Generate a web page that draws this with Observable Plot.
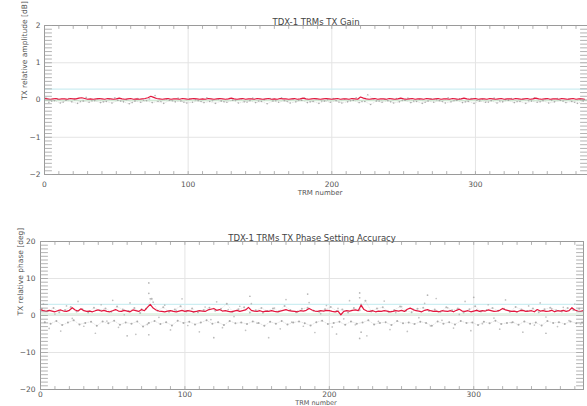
<!DOCTYPE html>
<html>
<head>
<meta charset="utf-8">
<script src="https://cdn.jsdelivr.net/npm/d3@7"></script>
<script src="https://cdn.jsdelivr.net/npm/@observablehq/plot@0.6"></script>
<style>
  html, body { margin: 0; padding: 0; background: #fff; }
  #chart { width: 587px; }
  #chart svg { display: block; }
</style>
</head>
<body>
<div id="chart"></div>
<script>
// ---------- texts ----------
const titleGain = "TDX-1 TRMs TX Gain";
const titlePhase = "TDX-1 TRMs TX Phase Setting Accuracy";
const labelX = "TRM number";
const labelGain = "TX relative amplitude [dB]";
const labelPhase = "TX relative phase [deg]";

// ---------- tick values ----------
const xTicks = [0, 100, 200, 300];
const gainTicks = [-2, -1, 0, 1, 2];
const phaseTicks = [-20, -10, 0, 10, 20];

// ---------- TRM numbers ----------
const trmEven = d3.range(0, 377, 2);     // mean curves
const trmA = d3.range(1, 377, 4);        // individual-measurement traces
const trmB = d3.range(3, 377, 4);
const trmC = d3.range(2, 377, 4);

// ---------- TX gain (dB) ----------
const gainMean = [
0.04,0.03,0.02,0.03,0.04,0.02,0.03,0.03,0.02,0.04,0.03,0.03,0.05,0.06,0.04,0.02,0.03,0.02,0.03,0.04,
0.03,0.02,0.04,0.03,0.02,0.03,0.05,0.03,0.02,0.03,0.04,0.02,0.03,0.02,0.03,0.04,0.06,0.10,0.07,0.04,
0.03,0.02,0.03,0.04,0.02,0.03,0.03,0.02,0.04,0.03,0.02,0.03,0.04,0.03,0.02,0.03,0.02,0.04,0.03,0.02,
0.03,0.04,0.03,0.02,0.03,0.05,0.03,0.02,0.03,0.04,0.02,0.03,0.03,0.02,0.04,0.03,0.02,0.03,0.04,0.02,
0.03,0.02,0.04,0.03,0.03,0.02,0.03,0.04,0.02,0.03,0.05,0.03,0.02,0.03,0.04,0.03,0.02,0.03,0.04,0.03,
0.02,0.03,0.04,0.02,0.03,0.03,0.02,0.04,0.03,0.02,0.08,0.05,0.03,0.02,0.03,0.04,0.02,0.03,0.03,0.02,
0.04,0.03,0.02,0.03,0.05,0.03,0.02,0.03,0.04,0.02,0.03,0.03,0.02,0.04,0.03,0.02,0.03,0.04,0.02,0.03,
0.03,0.02,0.04,0.03,0.02,0.03,0.05,0.03,0.02,0.03,0.04,0.02,0.03,0.03,0.02,0.04,0.03,0.02,0.03,0.04,
0.02,0.03,0.03,0.02,0.04,0.03,0.02,0.03,0.04,0.02,0.03,0.05,0.03,0.02,0.03,0.04,0.02,0.03,0.03,0.02,
0.04,0.03,0.02,0.03,0.04,0.02,0.03,0.03,0.02
];
const gainA = [
0.05,-0.03,0.02,-0.06,0.04,0.01,-0.04,0.07,-0.02,0.03,
-0.05,0.02,0.06,-0.03,0.01,-0.07,0.04,-0.01,0.03,0.12,
-0.04,0.02,-0.02,0.05,-0.06,0.03,0.01,-0.04,0.06,-0.02,
0.02,-0.05,0.04,-0.01,0.03,-0.06,0.05,-0.03,0.01,0.04,
-0.02,0.06,-0.04,0.02,-0.01,0.05,-0.05,0.03,-0.03,0.01,
0.04,-0.06,0.02,-0.02,0.06,-0.04,0.14,0.03,-0.03,0.02,
-0.05,0.04,-0.01,0.05,-0.03,0.02,-0.06,0.03,0.01,-0.04,
0.06,-0.02,0.03,-0.05,0.04,-0.01,0.02,-0.06,0.05,-0.03,
0.01,0.04,-0.04,0.02,-0.02,0.06,-0.05,0.03,-0.01,0.04,
-0.03,0.02,-0.06,0.03
];
const gainB = [
-0.06,-0.02,-0.08,-0.01,-0.05,-0.09,-0.03,-0.06,-0.02,-0.07,
-0.04,-0.08,-0.01,-0.05,-0.10,-0.03,-0.06,-0.02,-0.07,-0.04,
-0.09,-0.01,-0.05,-0.03,-0.08,-0.06,-0.02,-0.07,-0.04,-0.09,
-0.03,-0.06,-0.01,-0.08,-0.05,-0.02,-0.07,-0.04,-0.10,-0.03,
-0.06,-0.02,-0.08,-0.05,-0.01,-0.07,-0.04,-0.09,-0.03,-0.06,
-0.02,-0.08,-0.05,-0.01,-0.07,-0.04,-0.12,-0.03,-0.06,-0.02,
-0.08,-0.05,-0.01,-0.07,-0.04,-0.09,-0.03,-0.06,-0.02,-0.08,
-0.05,-0.01,-0.07,-0.04,-0.09,-0.03,-0.06,-0.02,-0.08,-0.05,
-0.01,-0.07,-0.04,-0.09,-0.03,-0.06,-0.02,-0.08,-0.05,-0.01,
-0.07,-0.04,-0.09,-0.03
];
const gainRefLevels = [0.29];   // faint cyan
const gainLowLevels = [-0.02];  // faint green

// ---------- TX phase (deg) ----------
const phaseMean = [
1.6,1.3,1.1,1.4,1.2,1.0,1.3,1.5,1.2,1.1,1.4,2.1,1.5,1.2,1.8,1.3,1.1,1.2,1.0,1.3,
1.5,1.2,1.4,1.1,1.0,1.3,1.6,1.2,1.1,1.4,1.2,1.0,1.5,1.3,1.1,1.6,1.3,2.2,3.0,2.0,
1.5,1.2,1.1,1.0,1.2,1.3,1.1,1.0,1.2,1.4,1.1,1.3,1.2,1.0,1.1,1.3,1.2,1.1,1.5,1.7,
1.9,1.4,1.6,1.2,1.3,1.1,1.0,1.2,1.4,1.1,1.3,1.5,2.2,1.4,1.2,1.1,1.3,1.0,1.2,1.1,
1.3,1.1,1.0,1.2,1.4,1.6,1.3,1.2,1.1,1.0,1.3,1.2,1.4,1.9,1.5,1.2,1.1,1.3,1.2,1.4,
1.3,1.1,1.0,1.2,0.2,1.1,1.3,1.2,1.4,1.5,1.3,2.8,1.6,1.2,1.1,1.3,1.0,1.2,1.1,1.3,
1.2,1.0,1.1,1.3,1.2,1.4,1.1,1.7,2.0,1.6,1.3,1.2,1.0,1.4,1.6,1.3,1.1,1.2,1.0,1.3,
1.2,1.1,1.3,1.0,1.4,1.7,1.2,1.1,1.3,1.0,1.2,1.4,1.1,1.3,1.2,1.5,1.3,1.1,1.2,1.4,
1.9,1.5,1.3,1.1,1.2,1.0,1.3,1.4,1.1,1.2,1.3,1.0,1.6,1.2,1.3,1.1,1.2,1.4,1.0,1.3,
1.2,1.4,1.1,1.3,2.1,1.5,1.2,1.1,1.3
];
const phaseUpper = [
1.8,1.2,2.0,0.9,1.5,2.3,1.1,1.7,0.8,2.1,
1.4,1.9,1.0,2.4,1.6,1.2,2.0,0.7,1.8,4.5,
1.3,2.2,1.0,1.6,2.5,1.1,1.9,0.9,1.5,2.1,
1.3,1.8,3.2,1.0,1.7,2.2,0.8,1.4,2.0,1.2,
1.9,1.1,2.6,1.5,0.9,1.8,2.1,1.3,1.0,1.7,
2.3,1.2,1.6,0.8,2.0,1.4,4.0,1.1,1.9,2.2,
1.0,1.5,2.4,1.3,0.9,1.8,2.1,1.2,1.6,1.0,
2.2,1.4,1.9,0.8,1.7,2.5,1.1,1.5,2.0,1.3,
1.8,1.0,2.3,1.6,1.2,1.9,0.9,1.7,2.1,1.4,
1.1,2.0,1.5,1.8
];
const phaseLower = [
-1.8,-2.2,-1.5,-2.6,-1.9,-1.3,-2.4,-2.0,-1.7,-2.8,
-1.6,-2.1,-1.4,-2.5,-1.9,-2.2,-1.6,-3.0,-2.0,-1.5,
-2.3,-1.8,-2.7,-1.4,-2.0,-1.7,-2.4,-1.9,-1.3,-2.2,
-1.8,-2.6,-1.5,-2.1,-1.9,-2.3,-1.6,-2.0,-2.8,-1.7,
-2.2,-1.5,-2.4,-1.9,-1.6,-2.1,-2.7,-1.8,-1.4,-2.3,
-2.0,-1.7,-2.5,-1.6,-2.2,-1.9,-1.3,-2.4,-2.0,-1.8,
-2.6,-1.5,-2.1,-1.9,-2.3,-1.7,-2.0,-2.8,-1.6,-2.2,
-1.8,-2.4,-1.5,-2.0,-1.9,-2.6,-1.7,-2.1,-1.4,-2.3,
-2.0,-1.8,-2.5,-1.6,-2.2,-1.9,-2.7,-1.5,-2.0,-1.8,
-2.3,-1.6,-2.1,-1.9
];
const phaseScatter = [
3.1,-3.5,0.4,-4.2,2.6,-0.8,3.8,-2.9,1.2,-4.8,
2.9,-1.5,4.1,-3.2,0.2,3.4,-5.1,1.8,-2.4,3.6,
-0.5,2.8,-3.9,1.4,4.5,-2.7,0.9,-4.4,2.3,-1.1,
3.7,-3.3,1.6,-0.3,2.5,-4.0,3.2,-2.1,0.7,-6.0,
2.0,-3.6,4.3,-1.8,1.1,-2.9,3.5,-4.6,0.5,2.7,
-3.1,1.9,-0.9,4.0,-2.5,3.0,-5.5,1.3,-1.6,3.9,
-3.8,0.8,2.4,-4.3,1.7,-0.6,3.3,-2.8,4.6,-1.3,
2.1,-3.4,0.3,3.8,-4.1,1.5,-2.2,2.9,-0.7,-3.7,
4.2,-1.9,1.0,-4.5,2.6,-2.6,3.4,-0.4,1.8,-3.0,
2.2,-1.4,3.1,-2.3
];
const phaseOutTRM = [75, 75, 75, 76, 145, 221, 221, 221, 222, 120, 205, 268, 350, 185, 60, 300];
const phaseOutVal = [8.8, 6.0, -5.2, 4.5, 5.2, 6.1, 4.8, -6.2, -4.5, -6.0, -5.0, 5.5, -4.8, 5.8, -5.5, 4.9];
const phaseRefLevels = [3.0];
const phaseLowLevels = [0.4];

// ---------- styling ----------
const fontFamily = "'DejaVu Sans', sans-serif";
const textColor = "#555";
const gridColor = "#e4e4e4";
const frameColor = "#9a9a9a";
const tickColor = "#a0a0a0";
const meanColor = "#e3173e";
const dotColor = "#a8a8a8";

// straight tick shape for the vector mark (drawn "upwards", then rotated)
const tickShape = {draw(context, l) { context.moveTo(0, 0); context.lineTo(0, -l); }};

function panel({title, ylabel, yDomain, yTicks, yMinor, xDomain, height, marginTop, marginBottom, marginLeft, marginRight,
                mean, trA, trB, trC, outX, outY, refLevels, lowLevels, ylabelDx, xTickPad, yTickPad, titleDy, xlabelDy, xlabelSize, dotR}) {
  const minorX = d3.range(0, xDomain[1], 10);
  const marks = [
    Plot.gridY(yTicks, {stroke: gridColor, strokeOpacity: 1}),
    Plot.gridX(xTicks, {stroke: gridColor, strokeOpacity: 1}),
    Plot.ruleY(refLevels, {stroke: "#cdeef2", strokeWidth: 1.2}),
    Plot.ruleY(lowLevels, {stroke: "#c6e7cc", strokeWidth: 1}),
    Plot.line(trA.vals, {x: trA.x, y: d => d, stroke: dotColor, strokeOpacity: 0.4, strokeWidth: 0.6, strokeDasharray: "1,1.5"}),
    Plot.dot(trA.vals, {x: trA.x, y: d => d, r: dotR, fill: dotColor, fillOpacity: 0.8, stroke: "none"}),
    Plot.line(trB.vals, {x: trB.x, y: d => d, stroke: "#999", strokeOpacity: 0.4, strokeWidth: 0.6, strokeDasharray: "1,1.5"}),
    Plot.dot(trB.vals, {x: trB.x, y: d => d, r: dotR, fill: "#999", fillOpacity: 0.8, stroke: "none"}),
  ];
  if (trC) marks.push(Plot.dot(trC.vals, {x: trC.x, y: d => d, r: dotR * 0.85, fill: dotColor, fillOpacity: 0.7, stroke: "none"}));
  if (outX) marks.push(Plot.dot(outY, {x: (d, i) => outX[i], y: d => d, r: dotR * 0.85, fill: dotColor, fillOpacity: 0.85, stroke: "none"}));
  marks.push(
    Plot.line(mean, {x: (d, i) => trmEven[i], y: d => d, stroke: meanColor, strokeWidth: 1.2}),
    Plot.frame({stroke: frameColor, strokeWidth: 1}),
    // inward minor/major ticks on all four sides
    Plot.vector(yMinor, {y: d => d, frameAnchor: "left", length: 7, rotate: 90, anchor: "start", shape: tickShape, stroke: tickColor, strokeWidth: 0.8}),
    Plot.vector(yMinor, {y: d => d, frameAnchor: "right", length: 7, rotate: -90, anchor: "start", shape: tickShape, stroke: tickColor, strokeWidth: 0.8}),
    Plot.vector(minorX, {x: d => d, frameAnchor: "bottom", length: 3, rotate: 0, anchor: "start", shape: tickShape, stroke: tickColor, strokeWidth: 0.8}),
    Plot.vector(minorX, {x: d => d, frameAnchor: "top", length: 3, rotate: 180, anchor: "start", shape: tickShape, stroke: tickColor, strokeWidth: 0.8}),
    // tick labels
    Plot.axisY(yTicks, {anchor: "left", tickSize: 0, tickPadding: yTickPad, label: null, fill: textColor, fontSize: 7.5}),
    Plot.axisX(xTicks, {anchor: "bottom", tickSize: 0, tickPadding: xTickPad, label: null, fill: textColor, fontSize: 7.5}),
    Plot.text([title], {frameAnchor: "top", dy: titleDy, text: d => d, fill: "#444", fontSize: 8.5}),
    Plot.text([labelX], {frameAnchor: "bottom", dy: xlabelDy, dx: 4, text: d => d, fill: textColor, fontSize: xlabelSize}),
    Plot.text([ylabel], {frameAnchor: "left", dx: ylabelDx, rotate: -90, text: d => d, fill: textColor, fontSize: 7.5})
  );
  return Plot.plot({
    width: 587, height, marginTop, marginBottom, marginLeft, marginRight,
    x: {domain: xDomain, axis: null},
    y: {domain: yDomain, axis: null},
    style: {fontFamily, background: "#fff", overflow: "visible"},
    marks
  });
}

const gainChart = panel({
  title: titleGain, ylabel: labelGain, yDomain: [-2, 2], yTicks: gainTicks,
  yMinor: d3.range(-20, 21).map(d => d / 10),
  xDomain: [0, 378], height: 205, marginTop: 25, marginBottom: 31, marginLeft: 44, marginRight: 0,
  mean: gainMean, trA: {x: trmA, vals: gainA}, trB: {x: trmB, vals: gainB}, trC: null,
  refLevels: gainRefLevels, lowLevels: gainLowLevels,
  ylabelDx: -20, xTickPad: 7, yTickPad: 4, titleDy: -7, xlabelDy: 20, xlabelSize: 7, dotR: 0.8
});
const phaseChart = panel({
  title: titlePhase, ylabel: labelPhase, yDomain: [-20, 20], yTicks: phaseTicks,
  yMinor: d3.range(-20, 21),
  xDomain: [0, 376], height: 201, marginTop: 36, marginBottom: 17, marginLeft: 40, marginRight: 4,
  mean: phaseMean, trA: {x: trmA, vals: phaseUpper}, trB: {x: trmB, vals: phaseLower}, trC: {x: trmC, vals: phaseScatter},
  outX: phaseOutTRM, outY: phaseOutVal,
  refLevels: phaseRefLevels, lowLevels: phaseLowLevels,
  ylabelDx: -20, xTickPad: 2, yTickPad: 5, titleDy: -7, xlabelDy: 15.5, xlabelSize: 6.5, dotR: 1.0
});
document.getElementById("chart").append(gainChart, phaseChart);
</script>
</body>
</html>
